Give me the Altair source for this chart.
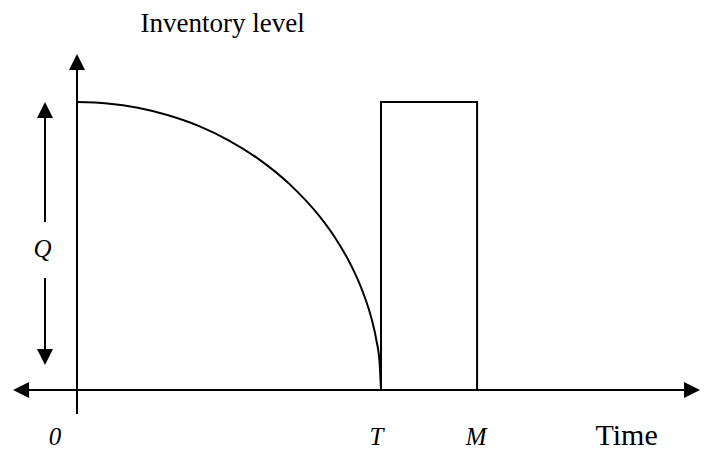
import altair as alt
import pandas as pd

# ---- data (time units: T = 10, level units: Q = 100) ----
curve_time = [0, 1, 2, 3, 4, 5, 6, 7, 8, 8.5, 9, 9.4, 9.7, 9.85, 9.95, 10]
curve_level = [100, 99.5, 98, 95.4, 91.7, 86.6, 80, 71.4, 60, 52.7, 43.6, 34.1, 24.3, 17.2, 10, 0]

rect_start = [10]
rect_end = [13.16]
rect_low = [0]
rect_high = [100]

# axis lines and the two halves of the Q double-arrow
seg_x = [-1.84, 0, -1.053, -1.053]
seg_x2 = [20.2, 0, -1.053, -1.053]
seg_y = [0, -8.33, 97.2, 38.9]
seg_y2 = [0, 113.9, 58.3, 11.46]

# arrow heads
arrow_x = [0, -1.84, 20.23, -1.053, -1.053]
arrow_y = [113.9, 0, 0, 97.2, 11.46]
arrow_dir = ["up", "left", "right", "up", "down"]

# italic labels
ital_text = ["0", "T", "M", "Q"]
ital_x = [-0.72, 9.85, 13.13, -1.13]
ital_y = [-19.2, -19.2, -19.2, 46.2]

# upright labels
title_text = ["Inventory level"]
title_x = [4.79]
title_y = [124.3]
time_text = ["Time"]
time_x = [18.08]
time_y = [-19.0]

x_domain = [-2.27, 20.493]
y_domain = [-20.83, 132.64]

paths = {
    "up": "M-1,1L0,-1L1,1Z",
    "down": "M-1,-1L0,1L1,-1Z",
    "left": "M1,-1L-1,0L1,1Z",
    "right": "M-1,-1L1,0L-1,1Z",
}

xs = alt.Scale(domain=x_domain, nice=False, zero=False)
ys = alt.Scale(domain=y_domain, nice=False, zero=False)

curve_df = pd.DataFrame({"t": curve_time, "v": curve_level, "o": list(range(len(curve_time)))})
rect_df = pd.DataFrame({"x": rect_start, "x2": rect_end, "y": rect_low, "y2": rect_high})
seg_df = pd.DataFrame({"x": seg_x, "x2": seg_x2, "y": seg_y, "y2": seg_y2})
arrow_df = pd.DataFrame({"x": arrow_x, "y": arrow_y, "shape": [paths[d] for d in arrow_dir]})
ital_df = pd.DataFrame({"x": ital_x, "y": ital_y, "label": ital_text})
title_df = pd.DataFrame({"x": title_x, "y": title_y, "label": title_text})
time_df = pd.DataFrame({"x": time_x, "y": time_y, "label": time_text})

curve = alt.Chart(curve_df).mark_line(
    color="black", strokeWidth=2, interpolate="monotone"
).encode(
    x=alt.X("t:Q", scale=xs, axis=None),
    y=alt.Y("v:Q", scale=ys, axis=None),
    order="o:Q",
)

rect = alt.Chart(rect_df).mark_rect(
    fillOpacity=0, stroke="black", strokeWidth=2
).encode(
    x=alt.X("x:Q", scale=xs, axis=None),
    x2="x2:Q",
    y=alt.Y("y:Q", scale=ys, axis=None),
    y2="y2:Q",
)

segs = alt.Chart(seg_df).mark_rule(color="black", strokeWidth=2).encode(
    x=alt.X("x:Q", scale=xs, axis=None),
    x2="x2:Q",
    y=alt.Y("y:Q", scale=ys, axis=None),
    y2="y2:Q",
)

arrows = alt.Chart(arrow_df).mark_point(
    filled=True, color="black", size=256, opacity=1, strokeWidth=0
).encode(
    x=alt.X("x:Q", scale=xs, axis=None),
    y=alt.Y("y:Q", scale=ys, axis=None),
    shape=alt.Shape("shape:N", scale=None),
)

ital = alt.Chart(ital_df).mark_text(
    font="Liberation Serif", fontStyle="italic", fontSize=25,
    align="center", baseline="alphabetic", color="black"
).encode(
    x=alt.X("x:Q", scale=xs, axis=None),
    y=alt.Y("y:Q", scale=ys, axis=None),
    text="label:N",
)

title = alt.Chart(title_df).mark_text(
    font="Liberation Serif", fontSize=27,
    align="center", baseline="alphabetic", color="black"
).encode(
    x=alt.X("x:Q", scale=xs, axis=None),
    y=alt.Y("y:Q", scale=ys, axis=None),
    text="label:N",
)

time_lbl = alt.Chart(time_df).mark_text(
    font="Liberation Serif", fontSize=30,
    align="center", baseline="alphabetic", color="black"
).encode(
    x=alt.X("x:Q", scale=xs, axis=None),
    y=alt.Y("y:Q", scale=ys, axis=None),
    text="label:N",
)

chart = alt.layer(segs, rect, curve, arrows, ital, title, time_lbl).properties(
    width=692, height=442,
    autosize=alt.AutoSizeParams(type="none"),
    padding=0,
    background="white",
).configure_view(stroke=None)

chart.save("out.html", embed_options={"renderer": "svg", "actions": False})
